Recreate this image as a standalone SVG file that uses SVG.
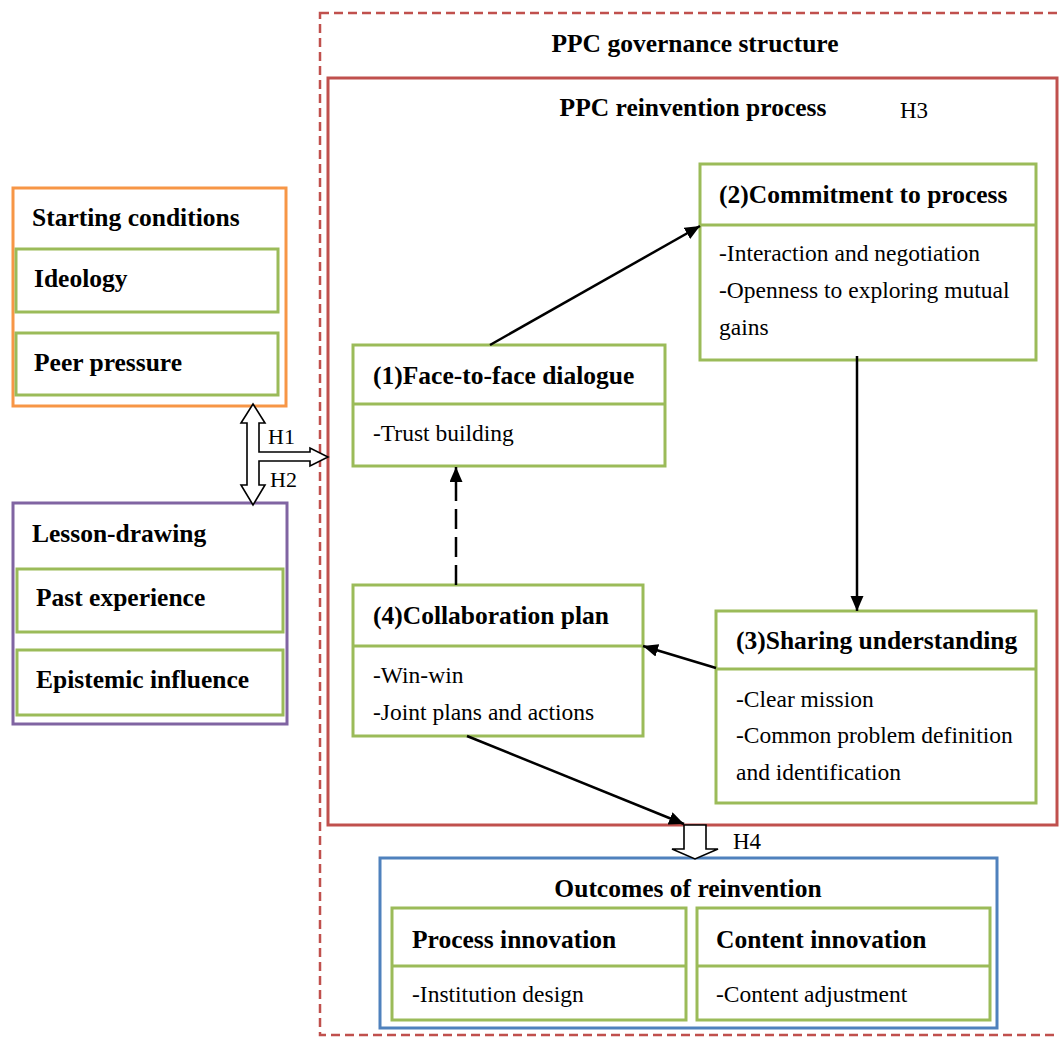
<svg xmlns="http://www.w3.org/2000/svg" width="1059" height="1038" viewBox="0 0 1059 1038">
<defs>
<style>
.b{font-family:"Liberation Serif","Times New Roman",serif;font-weight:bold;font-size:25.5px;fill:#000}
.r{font-family:"Liberation Serif","Times New Roman",serif;font-size:23.5px;fill:#000}
.h{font-family:"Liberation Serif","Times New Roman",serif;font-size:22px;fill:#000}
.g{fill:#fff;stroke:#9BBB59;stroke-width:3}
.gl{stroke:#9BBB59;stroke-width:3;fill:none}
.c{stroke:#000;stroke-width:2.5;fill:none}
</style>
<marker id="ah" markerUnits="userSpaceOnUse" markerWidth="16" markerHeight="14" refX="15" refY="6.5" orient="auto">
<path d="M0,0 L15,6.5 L0,13 z" fill="#000"/>
</marker>
</defs>
<rect width="1059" height="1038" fill="#fff"/>

<g id="governance">
<rect x="320" y="13" width="745" height="1022" fill="none" stroke="#C0504D" stroke-width="2.5" stroke-dasharray="9 5"/>
<text class="b" x="695" y="52" text-anchor="middle">PPC governance structure</text>
</g>

<g id="reinvention">
<rect x="328" y="78" width="729" height="747" fill="none" stroke="#C0504D" stroke-width="3"/>
<text class="b" x="693" y="116" text-anchor="middle">PPC reinvention process</text>
<text class="h" x="900" y="118" style="font-size:23px">H3</text>
</g>

<g id="starting">
<rect x="13" y="188" width="273" height="218" fill="#fff" stroke="#F79646" stroke-width="3"/>
<text class="b" x="32" y="226">Starting conditions</text>
<rect class="g" x="16" y="249" width="262" height="63"/>
<text class="b" x="34" y="287">Ideology</text>
<rect class="g" x="16" y="333" width="262" height="62"/>
<text class="b" x="34" y="371">Peer pressure</text>
</g>

<g id="lesson">
<rect x="13" y="503" width="274" height="221" fill="#fff" stroke="#8064A2" stroke-width="3"/>
<text class="b" x="32" y="542">Lesson-drawing</text>
<rect class="g" x="17" y="569" width="266" height="63"/>
<text class="b" x="36" y="606">Past experience</text>
<rect class="g" x="17" y="650" width="266" height="65"/>
<text class="b" x="36" y="688">Epistemic influence</text>
</g>

<g id="n1">
<rect class="g" x="353" y="345" width="312" height="121"/>
<line class="gl" x1="353" y1="404" x2="665" y2="404"/>
<text class="b" x="373" y="384">(1)Face-to-face dialogue</text>
<text class="r" x="373" y="441">-Trust building</text>
</g>

<g id="n2">
<rect class="g" x="700" y="164" width="336" height="196"/>
<line class="gl" x1="700" y1="225" x2="1036" y2="225"/>
<text class="b" x="719" y="203">(2)Commitment to process</text>
<text class="r" x="719" y="261">-Interaction and negotiation</text>
<text class="r" x="719" y="298">-Openness to exploring mutual</text>
<text class="r" x="719" y="335">gains</text>
</g>

<g id="n3">
<rect class="g" x="716" y="611" width="320" height="192"/>
<line class="gl" x1="716" y1="669" x2="1036" y2="669"/>
<text class="b" x="736" y="649">(3)Sharing understanding</text>
<text class="r" x="736" y="707">-Clear mission</text>
<text class="r" x="736" y="743">-Common problem definition</text>
<text class="r" x="736" y="780">and identification</text>
</g>

<g id="n4">
<rect class="g" x="353" y="585" width="290" height="151"/>
<line class="gl" x1="353" y1="646" x2="643" y2="646"/>
<text class="b" x="373" y="624">(4)Collaboration plan</text>
<text class="r" x="373" y="683">-Win-win</text>
<text class="r" x="373" y="720">-Joint plans and actions</text>
</g>

<g id="outcomes">
<rect x="380" y="858" width="617" height="170" fill="#fff" stroke="#4F81BD" stroke-width="3"/>
<text class="b" x="688" y="897" text-anchor="middle">Outcomes of reinvention</text>
<rect class="g" x="392" y="908" width="294" height="112"/>
<line class="gl" x1="392" y1="966" x2="686" y2="966"/>
<text class="b" x="412" y="948">Process innovation</text>
<text class="r" x="412" y="1002">-Institution design</text>
<rect class="g" x="697" y="908" width="293" height="112"/>
<line class="gl" x1="697" y1="966" x2="990" y2="966"/>
<text class="b" x="716" y="948">Content innovation</text>
<text class="r" x="716" y="1002">-Content adjustment</text>
</g>

<g id="connectors">
<line class="c" x1="490" y1="345" x2="700" y2="226" marker-end="url(#ah)"/>
<line class="c" x1="857" y1="356" x2="857" y2="611" marker-end="url(#ah)"/>
<line class="c" x1="716" y1="668" x2="643" y2="646" marker-end="url(#ah)"/>
<line class="c" x1="456" y1="585" x2="456" y2="467" stroke-dasharray="20 8" marker-end="url(#ah)"/>
<line class="c" x1="467" y1="736" x2="684" y2="824" marker-end="url(#ah)"/>
<path d="M253,404 L265,423 L259,423 L259,452 L310,452 L310,448 L328,457 L310,466 L310,461 L259,461 L259,485 L265,485 L253,505 L241,485 L247,485 L247,423 L241,423 Z" fill="#fff" stroke="#000" stroke-width="1.6" stroke-linejoin="miter"/>
<text class="h" x="268" y="444">H1</text>
<text class="h" x="270" y="487">H2</text>
<path d="M684,825 L706,825 L706,849 L718,849 L695,859 L672,849 L684,849 Z" fill="#fff" stroke="#000" stroke-width="1.6"/>
<text class="h" x="733" y="849" style="font-size:23px">H4</text>
</g>
</svg>
